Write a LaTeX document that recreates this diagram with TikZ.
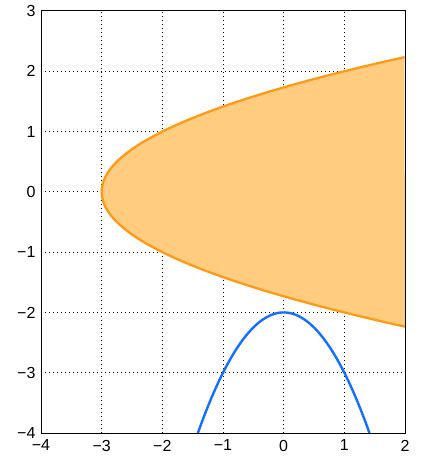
\documentclass[tikz,border=0pt]{standalone}
\usepackage{fontspec}
\setmainfont{Liberation Sans}
\definecolor{fillorange}{RGB}{255,204,128}
\definecolor{edgeorange}{RGB}{255,153,20}
\definecolor{curveblue}{RGB}{20,110,255}
\begin{document}
\begin{tikzpicture}[x=45.5pt,y=45.22pt,
  gridline/.style={black, line width=0.6pt, dash pattern=on 0.7pt off 2.3pt},
  ticklab/.style={font=\fontsize{12}{14}\selectfont, inner sep=0pt}]
\useasboundingbox (-4.676,-4.431) rectangle (2.264,3.182);
% grid
\foreach \gx in {-3,-2,-1,0,1} \draw[gridline] (\gx,-4) -- (\gx,3);
\foreach \gy in {-3,-2,-1,0,1,2} \draw[gridline] (-4,\gy) -- (2,\gy);
% filled region x >= y^2 - 3
\fill[fillorange] plot[variable=\t, domain=-2.23607:2.23607, samples=120] ({\t*\t-3},\t) -- cycle;
\draw[edgeorange, line width=1.7pt] plot[variable=\t, domain=-2.23607:2.23607, samples=120] ({\t*\t-3},\t);
% blue parabola
\draw[curveblue, line width=1.8pt] plot[domain=-1.41421:1.41421, samples=80] (\x,{-2-\x*\x});
% axes box
\draw[black, line width=0.7pt] (-4,-4) rectangle (2,3);
% tick labels
\foreach \v/\t in {-4/−4,-3/−3,-2/−2,-1/−1,0/0,1/1,2/2}
  \node[ticklab, anchor=north, yshift=-5pt] (xl\v) at (\v,-4) {\t};
\foreach \v/\t in {-4/−4,-3/−3,-2/−2,-1/−1,0/0,1/1,2/2,3/3}
  \node[ticklab, anchor=east, xshift=-4pt] (yl\v) at (-4,\v) {\t};
\end{tikzpicture}
\end{document}
